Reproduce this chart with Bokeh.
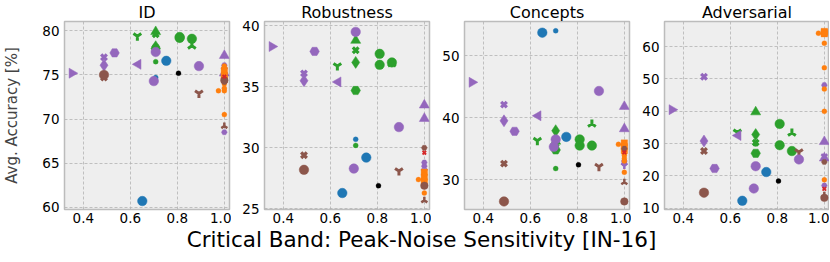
import math
from bokeh.plotting import figure
from bokeh.models import ColumnDataSource, Range1d, FixedTicker, NumeralTickFormatter
from bokeh.layouts import row, column
from bokeh.embed import file_html
from bokeh.resources import INLINE
from bokeh.core.properties import value

# ---------------- data (one entry per model) ----------------
sensitivity = [0.352, 0.488, 0.488, 0.488, 0.488, 0.533, 0.630, 0.633, 0.651,
               0.708, 0.708, 0.708, 0.708, 0.708, 0.708, 0.708, 0.700, 0.753,
               0.805, 0.810, 0.810, 0.862, 0.862, 0.892, 0.892,
               1.0, 1.0, 1.0, 1.0, 1.0, 1.0, 1.0, 1.0, 0.975, 1.0, 1.0, 1.0,
               1.0, 1.0, 1.0, 1.0, 1.0, 1.0]
id_acc = [75.2, 77.0, 76.1, 75.0, 74.7, 77.5, 79.4, 76.2, 60.7,
          79.9, 79.6, 78.2, 78.0, 76.5, 74.7, 77.6, 74.3, 76.6,
          75.2, 79.3, 79.2, 79.1, 78.3, 72.9, 76.0,
          77.2, 75.2, 75.6, 68.5, 76.1, 75.5, 74.9, 74.5, 73.2, 73.2, 70.5, 76.0,
          74.0, 73.5, 74.4, 69.2, 74.2, 74.8]
robustness = [38.3, 36.1, 35.5, 28.2, 29.4, 37.9, 36.7, 35.4, 26.3,
              38.8, 38.0, 37.0, 34.7, 30.2, 30.7, 39.5, 28.3, 29.2,
              26.9, 37.7, 36.8, 37.0, 36.9, 28.1, 31.7,
              33.5, 32.4, 28.1, 28.8, 28.5, 28.0, 27.6, 27.2, 27.4, 26.3, 27.0, 27.8,
              27.5, 27.1, 26.9, 25.7, 30.0, 29.6]
concepts = [45.7, 42.1, 39.5, 26.5, 32.6, 37.8, 36.3, 40.3, 53.7,
            36.2, 35.8, 37.9, 34.8, 31.8, 54.0, 36.5, 35.3, 36.9,
            32.4, 36.5, 35.5, 35.5, 39.0, 32.1, 44.3,
            41.8, 38.2, 32.3, 33.0, 32.6, 35.9, 35.3, 34.7, 35.7, 31.2, 33.9, 34.2,
            33.4, 33.0, 26.5, 29.6, 35.0, 34.4]
adversarial = [40.5, 50.7, 30.8, 14.8, 27.7, 22.3, 33.5, 32.5, 12.3,
               39.8, 30.3, 32.8, 27.0, 29.9, 22.8, 23.0, 16.1, 21.2,
               18.4, 36.1, 29.5, 27.7, 33.3, 27.4, 25.1,
               30.6, 25.5, 26.1, 48.1, 17.0, 64.7, 64.4, 64.0, 64.2, 61.1, 53.5, 46.9,
               40.0, 18.8, 13.2, 14.0, 24.3, 16.0]
family = ["purple", "purple", "purple", "brown", "brown", "purple", "green", "purple", "blue",
          "green", "green", "green", "green", "green", "blue", "purple", "purple", "blue",
          "black", "green", "green", "green", "green", "brown", "purple",
          "purple", "purple", "purple", "purple", "purple", "orange", "orange", "orange",
          "orange", "orange", "orange", "orange", "orange", "orange", "brown", "brown",
          "brown", "red"]
shape = ["tri_right", "x", "diamond", "circle", "x", "hex", "y", "tri_left", "circle",
         "triangle", "x", "diamond", "hex", "dot", "dot", "circle", "circle", "circle",
         "dot", "circle", "circle", "circle", "club", "y", "circle",
         "triangle", "triangle", "y_small", "hex_small", "hex_small", "square", "square", "square",
         "dot", "dot", "dot", "dot", "dot", "dot", "circle_mid", "club_small", "hex_small", "x_small"]

panels = [("ID", id_acc, (59.74, 81.06), [60, 65, 70, 75, 80]),
          ("Robustness", robustness, (24.95, 40.35), [25, 30, 35, 40]),
          ("Concepts", concepts, (25.2, 55.5), [30, 40, 50]),
          ("Adversarial", adversarial, (9.6, 67.8), [10, 20, 30, 40, 50, 60])]
x_ticks = [0.4, 0.6, 0.8, 1.0]
x_label = "Critical Band: Peak-Noise Sensitivity [IN-16]"
y_label = "Avg. Accuracy [%]"

# ---------------- styles ----------------
palette = {"purple": "#9467bd", "brown": "#8c564b", "green": "#2ca02c", "blue": "#1f77b4",
           "black": "#000000", "orange": "#ff7f0e", "red": "#d62728"}
# shape -> (bokeh marker, size, angle, line width)
glyphs = {"circle": ("circle", 9.5, 0.0, 0.5), "circle_mid": ("circle", 7.5, 0.0, 0.5),
          "dot": ("circle", 5, 0.0, 0.3), "square": ("square", 6.5, 0.0, 0.3),
          "triangle": ("triangle", 10, 0.0, 0.5),
          "tri_right": ("triangle", 10, -math.pi / 2, 0.5),
          "tri_left": ("triangle", 10, math.pi / 2, 0.5),
          "diamond": ("diamond", 12, 0.0, 0.5), "hex": ("hex", 9.5, 0.0, 0.5),
          "hex_small": ("hex", 6, 0.0, 0.3),
          "x": ("x", 8, 0.0, 3.2), "x_small": ("x", 5, 0.0, 1.8),
          "y": ("y", 9, 0.0, 3.0), "y_small": ("y", 7, 0.0, 2.5),
          "club": ("y", 9, math.pi, 3.0), "club_small": ("y", 7, math.pi, 2.5)}

FONT = "DejaVu Sans"
data = dict(x=sensitivity, id=id_acc, rob=robustness, con=concepts, adv=adversarial,
            color=[palette[f] for f in family],
            marker=[glyphs[s][0] for s in shape],
            size=[glyphs[s][1] for s in shape],
            angle=[glyphs[s][2] for s in shape],
            lw=[glyphs[s][3] for s in shape])
src = ColumnDataSource(data)
cols = ["id", "rob", "con", "adv"]

figs = []
for i, (title, _, yr, yt) in enumerate(panels):
    first = i == 0
    last = i == len(panels) - 1
    p = figure(frame_width=165, frame_height=188,
               x_range=Range1d(0.32, 1.022), y_range=Range1d(*yr),
               output_backend="svg", toolbar_location=None,
               min_border_left=50 if first else 33, min_border_right=0 if last else 2,
               min_border_top=15, min_border_bottom=18,
               background_fill_color="#eeeeee", border_fill_color="white",
               title=title)
    p.title.align = "center"
    p.title.text_font = FONT
    p.title.text_font_size = "16px"
    p.title.text_font_style = "normal"
    p.title.text_color = "#000000"
    p.title.standoff = 0
    p.title.offset = 0
    p.outline_line_color = "#bcbcbc"
    p.outline_line_width = 1.5
    for g in (p.xgrid, p.ygrid):
        g.grid_line_color = "#b2b2b2"
        g.grid_line_dash = "3 2"
        g.grid_line_width = 0.8
    p.xaxis.ticker = FixedTicker(ticks=x_ticks)
    p.xaxis.formatter = NumeralTickFormatter(format="0.0")
    p.yaxis.ticker = FixedTicker(ticks=yt)
    for ax in (p.xaxis, p.yaxis):
        ax.axis_line_color = None
        ax.major_tick_out = 0
        ax.major_tick_in = 0
        ax.minor_tick_line_color = None
        ax.major_label_text_font = FONT
        ax.major_label_text_font_size = "13.5px"
        ax.major_label_text_color = "#000000"
    p.xaxis.major_label_standoff = 3
    p.yaxis.major_label_standoff = 5
    if first:
        p.yaxis.axis_label = y_label
        p.yaxis.axis_label_text_font = FONT
        p.yaxis.axis_label_text_font_size = "15px"
        p.yaxis.axis_label_text_font_style = "normal"
        p.yaxis.axis_label_standoff = 18
    p.scatter(x="x", y=cols[i], marker="marker", size="size", angle="angle",
              fill_color="color", line_color="color", line_width="lw", source=src)
    figs.append(p)

lab = figure(width=817, height=24, x_range=Range1d(0, 817), y_range=Range1d(0, 24),
             output_backend="svg", toolbar_location=None, min_border=0,
             outline_line_color=None, border_fill_color="white", background_fill_color="white")
lab.axis.visible = False
lab.grid.visible = False
lab.text(x=[421], y=[12], text=[x_label], text_align="center", text_baseline="middle",
         text_font=value(FONT), text_font_size="21.5px", text_color="#000000")

layout = column(row(*figs), lab)
open("out.html", "w").write(file_html(layout, INLINE))
